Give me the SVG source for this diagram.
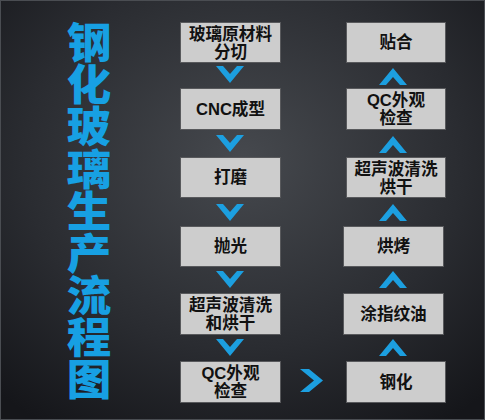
<svg xmlns="http://www.w3.org/2000/svg" width="485" height="420" viewBox="0 0 485 420">
<defs>
<radialGradient id="bg" cx="50%" cy="38%" r="75%">
<stop offset="0" stop-color="#46494e"/>
<stop offset="0.6" stop-color="#2a2c31"/>
<stop offset="1" stop-color="#15161a"/>
</radialGradient>
<polygon id="down" points="-14,0 -7,0 0,8 7,0 14,0 0,17"/>
<polygon id="up" points="-14,0 -7,0 0,-8 7,0 14,0 0,-17"/>
</defs>
<style>
.box{fill:#cdcdcd;stroke:#58595c;stroke-width:1}
.t{font-family:"Liberation Sans","Noto Sans CJK SC",sans-serif;font-size:16.6px;font-weight:bold;fill:#111;text-anchor:middle}
.title{font-family:"Noto Sans CJK SC",sans-serif;font-size:42px;font-weight:900;fill:#17a0e3;writing-mode:vertical-rl;letter-spacing:0.2px}
.chev{fill:#1c9fe0}
</style>
<rect x="0" y="0" width="485" height="420" fill="url(#bg)"/>
<rect x="0.5" y="0.5" width="484" height="419" fill="none" stroke="#4a4d52" stroke-width="1"/>
<g id="title">
<text class="title" transform="translate(89,0) scale(1.06,1)" x="0" y="21">钢化玻璃生产流程图</text>
</g>
<g id="n1"><rect class="box" x="180.5" y="22.5" width="100" height="40"/><text class="t" x="230.5" y="39.7">玻璃原材料</text><text class="t" x="230.5" y="58.4">分切</text></g>
<g id="n2"><rect class="box" x="180.5" y="88.5" width="100" height="41"/><text class="t" x="230.5" y="115">CNC成型</text></g>
<g id="n3"><rect class="box" x="180.5" y="157.5" width="100" height="40"/><text class="t" x="230.5" y="183">打磨</text></g>
<g id="n4"><rect class="box" x="180.5" y="226.5" width="100" height="40"/><text class="t" x="230.5" y="252">抛光</text></g>
<g id="n5"><rect class="box" x="180.5" y="293.5" width="100" height="41"/><text class="t" x="230.5" y="310.7">超声波清洗</text><text class="t" x="230.5" y="329.4">和烘干</text></g>
<g id="n6"><rect class="box" x="180.5" y="361.5" width="100" height="41"/><text class="t" x="230.5" y="378.7">QC外观</text><text class="t" x="230.5" y="397.4">检查</text></g>
<g id="n7"><rect class="box" x="346.5" y="361.5" width="99" height="41"/><text class="t" x="396" y="388">钢化</text></g>
<g id="n8"><rect class="box" x="343.5" y="293.5" width="100" height="41"/><text class="t" x="393.5" y="320">涂指纹油</text></g>
<g id="n9"><rect class="box" x="343.5" y="226.5" width="100" height="40"/><text class="t" x="393.5" y="252">烘烤</text></g>
<g id="n10"><rect class="box" x="346.5" y="157.5" width="99" height="40"/><text class="t" x="396" y="174.7">超声波清洗</text><text class="t" x="396" y="193.4">烘干</text></g>
<g id="n11"><rect class="box" x="346.5" y="88.5" width="99" height="41"/><text class="t" x="396" y="105.7">QC外观</text><text class="t" x="396" y="124.4">检查</text></g>
<g id="n12"><rect class="box" x="346.5" y="22.5" width="99" height="40"/><text class="t" x="396" y="48">贴合</text></g>
<g id="connectors" class="chev">
<use href="#down" x="230" y="66"/>
<use href="#down" x="230" y="135"/>
<use href="#down" x="230" y="204"/>
<use href="#down" x="230" y="271"/>
<use href="#down" x="230" y="339"/>
<polygon points="300,369 309,369 323,380.5 309,392 300,392 314,380.5"/>
<use href="#up" x="393" y="356"/>
<use href="#up" x="393" y="288"/>
<use href="#up" x="393" y="221"/>
<use href="#up" x="393" y="153"/>
<use href="#up" x="393" y="85"/>
</g>
</svg>
